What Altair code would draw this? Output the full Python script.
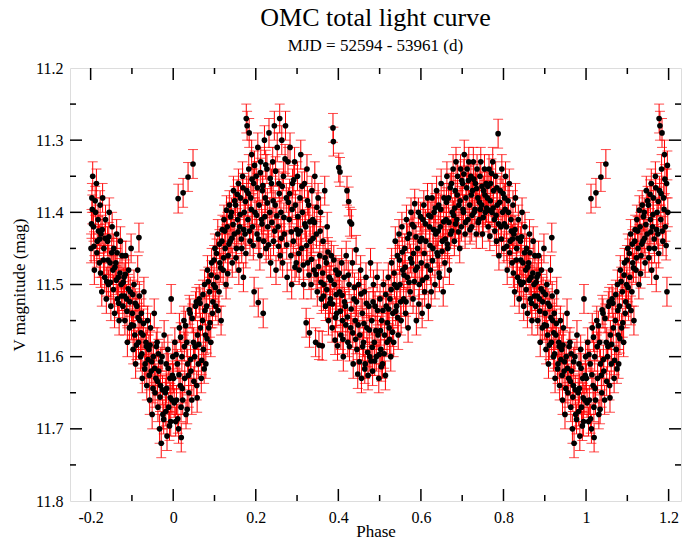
import altair as alt
import pandas as pd

FONT = "Liberation Serif"

# Folded light curve, phase 0..1
PHASE = [
    0.001, 0.004, 0.006, 0.008, 0.010, 0.012, 0.013, 0.015, 0.017, 0.019,
    0.021, 0.023, 0.024, 0.026, 0.028, 0.031, 0.033, 0.035, 0.036, 0.038,
    0.041, 0.043, 0.045, 0.048, 0.049, 0.052, 0.054, 0.057, 0.059,
    0.061, 0.063, 0.066, 0.068, 0.071, 0.073, 0.076, 0.078, 0.079,
    0.081, 0.083, 0.086, 0.088, 0.091, 0.093, 0.095, 0.098,
    0.101, 0.103, 0.106, 0.108, 0.111, 0.113, 0.116, 0.118,
    0.121, 0.123, 0.126, 0.128, 0.131, 0.133, 0.136, 0.138,
    0.141, 0.143, 0.146, 0.148, 0.151, 0.153, 0.156, 0.158, 0.159,
    0.161, 0.163, 0.166, 0.168, 0.170, 0.172, 0.174, 0.177, 0.178, 0.179,
    0.181, 0.183, 0.184, 0.186, 0.188, 0.190, 0.192, 0.195, 0.196, 0.198,
    0.201, 0.203, 0.205, 0.206, 0.208, 0.210, 0.212, 0.214, 0.216, 0.218, 0.219,
    0.221, 0.223, 0.225, 0.227, 0.229, 0.232, 0.234, 0.236, 0.238,
    0.241, 0.243, 0.245, 0.247, 0.249, 0.252, 0.254, 0.256, 0.258, 0.259,
    0.261, 0.263, 0.265, 0.267, 0.269, 0.272, 0.274, 0.276, 0.278,
    0.281, 0.283, 0.285, 0.287, 0.289, 0.291, 0.294, 0.296, 0.298,
    0.301, 0.303, 0.305, 0.307, 0.309, 0.311, 0.313, 0.316, 0.318,
    0.321, 0.322, 0.324, 0.326, 0.328, 0.330, 0.332, 0.334, 0.336, 0.338,
    0.341, 0.343, 0.345, 0.347, 0.349, 0.351, 0.353, 0.355, 0.357, 0.359,
    0.361, 0.363, 0.365, 0.367, 0.369, 0.371, 0.373, 0.376, 0.378,
    0.381, 0.383, 0.385, 0.387, 0.388, 0.390, 0.392, 0.394, 0.396, 0.398,
    0.401, 0.403, 0.404, 0.406, 0.408, 0.410, 0.412, 0.414, 0.417, 0.419,
    0.421, 0.423, 0.425, 0.426, 0.428, 0.430, 0.432, 0.434, 0.436, 0.438,
    0.441, 0.443, 0.445, 0.447, 0.449, 0.452, 0.454, 0.456, 0.458,
    0.461, 0.463, 0.465, 0.467, 0.469, 0.472, 0.474, 0.476, 0.478,
    0.481, 0.483, 0.485, 0.487, 0.489, 0.492, 0.494, 0.496, 0.498,
    0.501, 0.503, 0.505, 0.507, 0.509, 0.512, 0.514, 0.516, 0.518,
    0.521, 0.523, 0.525, 0.527, 0.529, 0.532, 0.534, 0.536, 0.538,
    0.541, 0.543, 0.545, 0.547, 0.549, 0.552, 0.554, 0.556, 0.558,
    0.561, 0.563, 0.565, 0.567, 0.569, 0.572, 0.574, 0.576, 0.578,
    0.581, 0.583, 0.585, 0.587, 0.589, 0.592, 0.594, 0.596, 0.598,
    0.601, 0.603, 0.605, 0.607, 0.609, 0.612, 0.614, 0.616, 0.618,
    0.621, 0.623, 0.625, 0.627, 0.629, 0.632, 0.634, 0.636, 0.638,
    0.641, 0.643, 0.645, 0.647, 0.649, 0.652, 0.654, 0.656, 0.658,
    0.661, 0.663, 0.665, 0.667, 0.669, 0.672, 0.674, 0.676, 0.678,
    0.681, 0.683, 0.685, 0.687, 0.689, 0.692, 0.694, 0.696, 0.698,
    0.701, 0.703, 0.705, 0.707, 0.709, 0.712, 0.714, 0.716, 0.718,
    0.721, 0.723, 0.725, 0.727, 0.729, 0.732, 0.734, 0.736, 0.738,
    0.741, 0.743, 0.745, 0.747, 0.749, 0.752, 0.754, 0.756, 0.758,
    0.761, 0.763, 0.765, 0.767, 0.769, 0.772, 0.774, 0.776, 0.778,
    0.781, 0.783, 0.785, 0.787, 0.789, 0.792, 0.794, 0.796, 0.798,
    0.801, 0.803, 0.805, 0.807, 0.809, 0.812, 0.814, 0.816, 0.818,
    0.821, 0.823, 0.825, 0.827, 0.829, 0.832, 0.834, 0.836, 0.838,
    0.841, 0.843, 0.845, 0.847, 0.849, 0.852, 0.854, 0.856, 0.858,
    0.861, 0.863, 0.865, 0.867, 0.869, 0.872, 0.874, 0.876, 0.878,
    0.881, 0.883, 0.885, 0.887, 0.889, 0.892, 0.894, 0.896, 0.898,
    0.901, 0.903, 0.905, 0.907, 0.909, 0.912, 0.914, 0.916, 0.917, 0.919,
    0.921, 0.923, 0.925, 0.927, 0.929, 0.932, 0.934, 0.936, 0.938,
    0.941, 0.943, 0.945, 0.947, 0.949, 0.952, 0.954, 0.956, 0.958,
    0.961, 0.963, 0.965, 0.967, 0.969, 0.971, 0.973, 0.975, 0.978,
    0.981, 0.983, 0.985, 0.987, 0.989, 0.992, 0.994, 0.995, 0.997, 0.999,
]

VMAG = [
    11.63, 11.58, 11.69, 11.66, 11.61, 11.381, 11.70, 11.56, 11.64, 11.67,
    11.60, 11.66, 11.373, 11.55, 11.63, 11.68, 11.58, 11.61, 11.351, 11.65,
    11.54, 11.62, 11.66, 11.333, 11.58, 11.60, 11.53, 11.64, 11.57,
    11.61, 11.52, 11.56, 11.63, 11.55, 11.59, 11.50, 11.57, 11.61,
    11.53, 11.48, 11.56, 11.51, 11.58, 11.47, 11.54, 11.50,
    11.45, 11.53, 11.49, 11.43, 11.51, 11.47, 11.55, 11.44,
    11.48, 11.41, 11.45, 11.50, 11.42, 11.46, 11.39, 11.44,
    11.40, 11.47, 11.37, 11.43, 11.39, 11.45, 11.41, 11.36, 11.48,
    11.42, 11.38, 11.45, 11.35, 11.49, 11.40, 11.43, 11.27, 11.37, 11.28,
    11.41, 11.34, 11.29, 11.44, 11.38, 11.32, 11.42, 11.36, 11.51, 11.40,
    11.35, 11.43, 11.31, 11.525, 11.39, 11.46, 11.33, 11.41, 11.37, 11.54, 11.44,
    11.30, 11.38, 11.45, 11.34, 11.42, 11.29, 11.40, 11.47, 11.36,
    11.33, 11.44, 11.28, 11.39, 11.48, 11.31, 11.42, 11.36, 11.27, 11.46,
    11.40, 11.30, 11.47, 11.35, 11.43, 11.28, 11.38, 11.49, 11.33,
    11.41, 11.31, 11.46, 11.50, 11.36, 11.44, 11.33, 11.39, 11.47,
    11.35, 11.43, 11.48, 11.38, 11.32, 11.45, 11.40, 11.50, 11.36,
    11.42, 11.553, 11.34, 11.47, 11.39, 11.567, 11.44, 11.50, 11.37, 11.41,
    11.48, 11.35, 11.58, 11.43, 11.51, 11.38, 11.584, 11.46, 11.40, 11.52,
    11.585, 11.44, 11.50, 11.37, 11.53, 11.47, 11.42, 11.55, 11.49,
    11.52, 11.46, 11.56, 11.283, 11.302, 11.50, 11.577, 11.48, 11.54, 11.585,
    11.338, 11.51, 11.344, 11.57, 11.47, 11.55, 11.60, 11.49, 11.53, 11.46,
    11.37, 11.58, 11.385, 11.50, 11.413, 11.56, 11.416, 11.47, 11.61, 11.52,
    11.55, 11.452, 11.59, 11.624, 11.50, 11.57, 11.48, 11.63, 11.54,
    11.58, 11.51, 11.61, 11.49, 11.56, 11.626, 11.53, 11.60, 11.47,
    11.55, 11.62, 11.50, 11.58, 11.53, 11.60, 11.49, 11.57, 11.63,
    11.52, 11.59, 11.55, 11.61, 11.50, 11.57, 11.626, 11.53, 11.58,
    11.49, 11.56, 11.52, 11.60, 11.47, 11.54, 11.58, 11.50, 11.44,
    11.53, 11.46, 11.57, 11.43, 11.50, 11.55, 11.42, 11.48, 11.52,
    11.45, 11.54, 11.41, 11.49, 11.56, 11.43, 11.51, 11.40, 11.47,
    11.52, 11.42, 11.388, 11.48, 11.55, 11.45, 11.40, 11.50, 11.44,
    11.47, 11.54, 11.41, 11.39, 11.51, 11.44, 11.49, 11.38, 11.53,
    11.42, 11.48, 11.51, 11.38, 11.45, 11.40, 11.50, 11.43, 11.37,
    11.46, 11.39, 11.49, 11.42, 11.36, 11.44, 11.51, 11.38, 11.47,
    11.41, 11.35, 11.45, 11.38, 11.48, 11.43, 11.36, 11.40, 11.34,
    11.44, 11.37, 11.33, 11.41, 11.35, 11.39, 11.45, 11.34, 11.42,
    11.36, 11.40, 11.32, 11.43, 11.38, 11.34, 11.41, 11.33, 11.39,
    11.35, 11.42, 11.37, 11.33, 11.40, 11.36, 11.43, 11.34, 11.38,
    11.41, 11.35, 11.33, 11.39, 11.43, 11.37, 11.34, 11.40, 11.36,
    11.38, 11.42, 11.34, 11.433, 11.36, 11.40, 11.33, 11.37, 11.41,
    11.35, 11.44, 11.39, 11.291, 11.46, 11.37, 11.42, 11.34, 11.40,
    11.45, 11.38, 11.35, 11.42, 11.48, 11.40, 11.36, 11.44, 11.41,
    11.47, 11.39, 11.43, 11.51, 11.38, 11.45, 11.49, 11.41, 11.52,
    11.44, 11.50, 11.40, 11.47, 11.53, 11.42, 11.48, 11.45, 11.54,
    11.47, 11.43, 11.52, 11.49, 11.55, 11.44, 11.50, 11.46, 11.53,
    11.49, 11.55, 11.46, 11.52, 11.58, 11.48, 11.56, 11.51, 11.45,
    11.54, 11.59, 11.50, 11.57, 11.61, 11.53, 11.48, 11.58, 11.435, 11.55,
    11.60, 11.54, 11.63, 11.57, 11.51, 11.61, 11.58, 11.64, 11.55,
    11.59, 11.66, 11.56, 11.62, 11.68, 11.60, 11.54, 11.65, 11.63,
    11.58, 11.67, 11.62, 11.70, 11.64, 11.72, 11.60, 11.68, 11.57,
    11.65, 11.61, 11.71, 11.59, 11.67, 11.63, 11.69, 11.52, 11.66, 11.60,
]

# Second, denser set of observations filling the core of the curve
PHASE_B = [
    0.0025, 0.007, 0.011, 0.014, 0.018, 0.0195,
    0.022, 0.027, 0.030, 0.034, 0.037, 0.039,
    0.042, 0.046, 0.050, 0.053, 0.056, 0.058,
    0.062, 0.065, 0.069, 0.072, 0.075, 0.077,
    0.082, 0.085, 0.089, 0.092, 0.096, 0.099,
    0.102, 0.105, 0.109, 0.112, 0.115, 0.119,
    0.122, 0.125, 0.129, 0.132, 0.135, 0.139,
    0.142, 0.145, 0.149, 0.152, 0.155, 0.157,
    0.162, 0.165, 0.169, 0.171, 0.175, 0.176,
    0.182, 0.185, 0.189, 0.191, 0.194, 0.197,
    0.202, 0.204, 0.207, 0.211, 0.215, 0.217,
    0.222, 0.224, 0.228, 0.231, 0.235, 0.239,
    0.242, 0.246, 0.248, 0.251, 0.255, 0.257,
    0.262, 0.264, 0.268, 0.271, 0.275, 0.279,
    0.282, 0.286, 0.288, 0.292, 0.295, 0.299,
    0.302, 0.304, 0.308, 0.312, 0.315, 0.319,
    0.323, 0.325, 0.329, 0.331, 0.335, 0.339,
    0.342, 0.346, 0.348, 0.352, 0.356, 0.358,
    0.362, 0.364, 0.368, 0.372, 0.375, 0.379,
    0.382, 0.386, 0.389, 0.393, 0.395, 0.399,
    0.402, 0.405, 0.409, 0.411, 0.415, 0.418,
    0.422, 0.424, 0.427, 0.431, 0.435, 0.439,
    0.442, 0.444, 0.448, 0.451, 0.455, 0.459,
    0.462, 0.464, 0.468, 0.471, 0.475, 0.479,
    0.482, 0.484, 0.488, 0.491, 0.495, 0.499,
    0.502, 0.504, 0.508, 0.511, 0.515, 0.519,
    0.522, 0.524, 0.528, 0.531, 0.535, 0.539,
    0.542, 0.544, 0.548, 0.551, 0.555, 0.559,
    0.562, 0.564, 0.568, 0.571, 0.575, 0.579,
    0.582, 0.584, 0.588, 0.591, 0.595, 0.599,
    0.602, 0.604, 0.608, 0.611, 0.615, 0.619,
    0.622, 0.624, 0.628, 0.631, 0.635, 0.639,
    0.642, 0.644, 0.648, 0.651, 0.655, 0.659,
    0.662, 0.664, 0.668, 0.671, 0.675, 0.679,
    0.682, 0.684, 0.688, 0.691, 0.695, 0.699,
    0.702, 0.704, 0.708, 0.711, 0.715, 0.719,
    0.722, 0.724, 0.728, 0.731, 0.735, 0.739,
    0.742, 0.744, 0.748, 0.751, 0.755, 0.759,
    0.762, 0.764, 0.768, 0.771, 0.775, 0.779,
    0.782, 0.784, 0.788, 0.791, 0.795, 0.799,
    0.802, 0.804, 0.808, 0.811, 0.815, 0.819,
    0.822, 0.824, 0.828, 0.831, 0.835, 0.839,
    0.842, 0.844, 0.848, 0.851, 0.855, 0.859,
    0.862, 0.864, 0.868, 0.871, 0.875, 0.879,
    0.882, 0.884, 0.888, 0.891, 0.895, 0.899,
    0.902, 0.904, 0.908, 0.911, 0.915, 0.918,
    0.922, 0.924, 0.928, 0.931, 0.935, 0.939,
    0.942, 0.944, 0.948, 0.951, 0.955, 0.959,
    0.962, 0.964, 0.968, 0.970, 0.974, 0.977,
    0.982, 0.984, 0.988, 0.991, 0.993, 0.998,
]

VMAG_B = [
    11.664, 11.597, 11.686, 11.625, 11.573, 11.712,
    11.644, 11.586, 11.557, 11.673, 11.626, 11.535,
    11.604, 11.547, 11.634, 11.586, 11.524, 11.657,
    11.583, 11.526, 11.605, 11.514, 11.617, 11.536,
    11.575, 11.496, 11.553, 11.487, 11.524, 11.466,
    11.504, 11.457, 11.536, 11.444, 11.477, 11.424,
    11.463, 11.426, 11.397, 11.485, 11.444, 11.406,
    11.436, 11.417, 11.384, 11.463, 11.375, 11.427,
    11.403, 11.437, 11.366, 11.424, 11.385, 11.457,
    11.374, 11.426, 11.396, 11.354, 11.446, 11.335,
    11.404, 11.366, 11.437, 11.345, 11.416, 11.363,
    11.406, 11.334, 11.387, 11.445, 11.353, 11.414,
    11.384, 11.426, 11.343, 11.405, 11.447, 11.374,
    11.436, 11.364, 11.407, 11.326, 11.445, 11.386,
    11.374, 11.427, 11.396, 11.355, 11.476, 11.424,
    11.406, 11.457, 11.426, 11.364, 11.473, 11.416,
    11.446, 11.384, 11.487, 11.413, 11.465, 11.436,
    11.414, 11.486, 11.393, 11.475, 11.426, 11.497,
    11.484, 11.516, 11.463, 11.507, 11.455, 11.526,
    11.494, 11.527, 11.466, 11.546, 11.514, 11.486,
    11.484, 11.537, 11.515, 11.576, 11.524, 11.556,
    11.545, 11.487, 11.586, 11.534, 11.567, 11.504,
    11.576, 11.524, 11.556, 11.607, 11.513, 11.586,
    11.554, 11.617, 11.526, 11.594, 11.563, 11.606,
    11.587, 11.524, 11.606, 11.564, 11.536, 11.597,
    11.564, 11.614, 11.536, 11.596, 11.514, 11.553,
    11.534, 11.576, 11.507, 11.566, 11.484, 11.537,
    11.504, 11.546, 11.466, 11.524, 11.455, 11.487,
    11.476, 11.524, 11.436, 11.497, 11.464, 11.417,
    11.457, 11.496, 11.434, 11.476, 11.527, 11.406,
    11.436, 11.494, 11.457, 11.416, 11.474, 11.404,
    11.446, 11.406, 11.467, 11.424, 11.394, 11.456,
    11.426, 11.484, 11.396, 11.454, 11.413, 11.437,
    11.386, 11.444, 11.414, 11.366, 11.426, 11.404,
    11.394, 11.416, 11.376, 11.427, 11.384, 11.356,
    11.396, 11.347, 11.414, 11.366, 11.356, 11.424,
    11.376, 11.404, 11.354, 11.396, 11.367, 11.414,
    11.386, 11.396, 11.364, 11.407, 11.376, 11.394,
    11.364, 11.397, 11.384, 11.346, 11.394, 11.426,
    11.404, 11.366, 11.416, 11.386, 11.437, 11.374,
    11.416, 11.396, 11.447, 11.384, 11.456, 11.426,
    11.437, 11.484, 11.424, 11.466, 11.436, 11.496,
    11.466, 11.434, 11.497, 11.456, 11.507, 11.476,
    11.494, 11.456, 11.526, 11.484, 11.516, 11.497,
    11.516, 11.486, 11.537, 11.506, 11.524, 11.556,
    11.514, 11.557, 11.526, 11.584, 11.546, 11.516,
    11.567, 11.596, 11.554, 11.617, 11.586, 11.604,
    11.626, 11.584, 11.607, 11.644, 11.616, 11.586,
    11.634, 11.596, 11.656, 11.607, 11.646, 11.687,
    11.676, 11.644, 11.616, 11.696, 11.657, 11.626,
]

MAG_ERR = 0.02  # typical photometric error bar (half length, mag)

X_MAJOR = [-0.2, 0.0, 0.2, 0.4, 0.6, 0.8, 1.0, 1.2]
X_MINOR = [-0.1, 0.1, 0.3, 0.5, 0.7, 0.9, 1.1]
Y_MAJOR = [11.2, 11.3, 11.4, 11.5, 11.6, 11.7, 11.8]
Y_MINOR = [11.25, 11.35, 11.45, 11.55, 11.65, 11.75]

assert len(PHASE) == len(VMAG)
assert len(PHASE_B) == len(VMAG_B)

# Phase-folded curve is shown from -0.2 to 1.2 (repeated cycle)
rows = []
for p, m in list(zip(PHASE, VMAG)) + list(zip(PHASE_B, VMAG_B)):
    rows.append((p, m))
    if p >= 0.8:
        rows.append((p - 1.0, m))
    if p < 0.2:
        rows.append((p + 1.0, m))
df = pd.DataFrame(rows, columns=["phase", "vmag"])
df["lo"] = df["vmag"] - MAG_ERR
df["hi"] = df["vmag"] + MAG_ERR

W, H = 611, 433

xscale = alt.Scale(domain=[-0.25, 1.23], nice=False, zero=False)
yscale = alt.Scale(domain=[11.2, 11.8], reverse=True, nice=False, zero=False)

xaxis = alt.Axis(
    values=X_MAJOR, format=".1~f", labelExpr="replace(datum.label, '\u2212', '-')",
    ticks=False, domain=False, grid=False,
    labelFont=FONT, labelFontSize=16, labelColor="black", labelPadding=8,
    title="Phase", titleFont=FONT, titleFontSize=17, titleFontWeight="normal",
    titleColor="black", titleBaseline="alphabetic", titleY=35,
)
yaxis = alt.Axis(
    values=Y_MAJOR, format=".1f",
    ticks=False, domain=False, grid=False,
    labelFont=FONT, labelFontSize=16, labelColor="black", labelPadding=7,
    title="V magnitude (mag)", titleFont=FONT, titleFontSize=17,
    titleFontWeight="normal", titleColor="black", titlePadding=7,
)


def X(f):
    return alt.X(f"{f}:Q", scale=xscale, axis=xaxis)


def Y(f):
    return alt.Y(f"{f}:Q", scale=yscale, axis=yaxis)


bars = alt.Chart(df).mark_rule(color="#ff0000", strokeWidth=1).encode(
    x=X("phase"), y=Y("lo"), y2="hi"
)
cap_lo = alt.Chart(df).mark_tick(color="#ff0000", orient="horizontal", size=10, thickness=1).encode(
    x=X("phase"), y=Y("lo")
)
cap_hi = alt.Chart(df).mark_tick(color="#ff0000", orient="horizontal", size=10, thickness=1).encode(
    x=X("phase"), y=Y("hi")
)
points = alt.Chart(df).mark_circle(color="black", size=32, opacity=1).encode(
    x=X("phase"), y=Y("vmag")
)

xmaj = pd.DataFrame({"v": X_MAJOR})
xmin = pd.DataFrame({"v": X_MINOR})
ymaj = pd.DataFrame({"v": Y_MAJOR[1:-1]})
ymin = pd.DataFrame({"v": Y_MINOR})

tick_layers = []
for d, L in ((xmaj, 12), (xmin, 6)):
    tick_layers.append(alt.Chart(d).mark_rule(color="black", strokeWidth=1.5).encode(
        x=X("v"), y=alt.value(H), y2=alt.value(H - L)))
    tick_layers.append(alt.Chart(d).mark_rule(color="black", strokeWidth=1.5).encode(
        x=X("v"), y=alt.value(0), y2=alt.value(L)))
for d, L in ((ymaj, 12), (ymin, 6)):
    tick_layers.append(alt.Chart(d).mark_rule(color="black", strokeWidth=1.5).encode(
        y=Y("v"), x=alt.value(0), x2=alt.value(L)))
    tick_layers.append(alt.Chart(d).mark_rule(color="black", strokeWidth=1.5).encode(
        y=Y("v"), x=alt.value(W), x2=alt.value(W - L)))

chart = alt.layer(bars, cap_lo, cap_hi, points, *tick_layers).properties(
    width=W, height=H,
    title=alt.TitleParams(
        text="OMC total light curve", subtitle="MJD = 52594 - 53961 (d)",
        font=FONT, fontSize=26, fontWeight="normal", color="black",
        subtitleFont=FONT, subtitleFontSize=17, subtitleColor="black",
        subtitlePadding=7, anchor="middle", offset=6,
    ),
    autosize=alt.AutoSizeParams(type="none"),
    padding={"left": 70, "top": 68, "right": 1, "bottom": 39},
).configure_view(stroke="black", strokeWidth=2).configure(background="white")

chart.save("out.html", embed_options={"renderer": "svg", "actions": False})
